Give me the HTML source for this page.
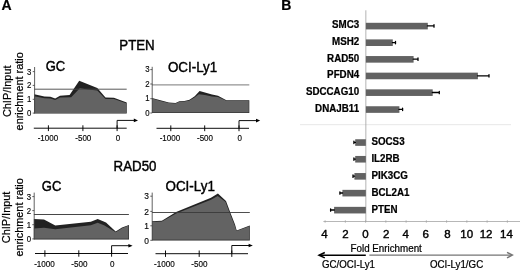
<!DOCTYPE html>
<html><head><meta charset="utf-8"><title>Figure</title>
<style>
html,body{margin:0;padding:0;background:#fff;}
body{width:520px;height:271px;overflow:hidden;}
svg{display:block;will-change:transform;}
text{font-family:"Liberation Sans",sans-serif;fill:#000;stroke:#000;stroke-width:0.22px;}
text.n{stroke-width:0.15px;fill:#0a0a0a;}
text.h{stroke-width:0.4px;}
</style></head><body>
<svg width="520" height="271" viewBox="0 0 520 271">
<rect width="520" height="271" fill="#fff"/>
<text transform="translate(1.4,10.4) scale(1,1)" font-weight="bold" font-size="14">A</text>
<text transform="translate(281.3,10.2) scale(1,1)" font-weight="bold" font-size="14">B</text>
<text transform="translate(10.6,91.3) rotate(-90) scale(1.05,1)" text-anchor="middle" font-size="10.4">ChIP/Input</text>
<text transform="translate(23.2,91.3) rotate(-90) scale(1.05,1)" text-anchor="middle" font-size="10.4">enrichment ratio</text>
<text transform="translate(10.4,217.4) rotate(-90) scale(1.05,1)" text-anchor="middle" font-size="10.4">ChIP/Input</text>
<text transform="translate(23,217.4) rotate(-90) scale(1.05,1)" text-anchor="middle" font-size="10.4">enrichment ratio</text>
<text transform="translate(137,49.5) scale(1,1.09)" text-anchor="middle" class="h" font-size="13.3">PTEN</text>
<text transform="translate(135,171) scale(1,1.09)" text-anchor="middle" class="h" font-size="13.3">RAD50</text>
<text transform="translate(45.7,71.4) scale(1,1.09)" class="h" font-size="13">GC</text>
<text transform="translate(167.9,71.9) scale(1,1.09)" class="h" font-size="13.4">OCI-Ly1</text>
<text transform="translate(41.8,190.7) scale(1,1.09)" class="h" font-size="13">GC</text>
<text transform="translate(165.5,191.4) scale(1,1.09)" class="h" font-size="13.4">OCI-Ly1</text>
<!-- chart 1 -->
<polygon fill="#222" points="34.3,94.3 44.4,96.6 50.4,96.8 55.2,98.6 60,95.8 69.6,95 79.2,80.8 97.3,88 105.5,97.4 113.9,97.7 126.7,102.5 126.7,113.6 34.3,113.6"/>
<polygon fill="#636363" points="34.3,96.2 44.4,98.3 50.4,98.4 55.2,100.1 60,97.5 71.2,97.2 79.8,88.2 88,89.6 97.3,90.5 105.5,98.9 113.9,99.1 126.2,103.3 126.2,113 34.3,113"/>
<line x1="34.3" y1="89.2" x2="126.7" y2="89.2" stroke="#444" stroke-width="0.9"/>
<path d="M34.6 67V113.6 M32.7 71.6h1.9 M32.7 85.4h1.9 M32.7 99.3h1.9 M32.7 113.1h1.9" stroke="#444" stroke-width="0.85" fill="none"/>
<text transform="translate(31.3,74.6437) scale(1,1.09)" text-anchor="end" class="n" font-size="7.8">3</text>
<text transform="translate(31.3,88.4437) scale(1,1.09)" text-anchor="end" class="n" font-size="7.8">2</text>
<text transform="translate(31.3,102.344) scale(1,1.09)" text-anchor="end" class="n" font-size="7.8">1</text>
<text transform="translate(31.3,116.144) scale(1,1.09)" text-anchor="end" class="n" font-size="7.8">0</text>
<path d="M33.8 128.2H126.7 M48.4 125.3v5.8 M82.9 125.3v5.8 M117.1 125.3v5.8 M117.1 128.2V120.4H135" stroke="#000" stroke-width="0.95" fill="none"/>
<polygon points="138,120.4 133.8,118.6 133.8,122.2" fill="#000"/>
<text transform="translate(47.9,141.2) scale(1,1.09)" text-anchor="middle" class="n" font-size="8.01887">-1000</text>
<text transform="translate(83.3,141.2) scale(1,1.09)" text-anchor="middle" class="n" font-size="8.01887">-500</text>
<text transform="translate(117.9,141.2) scale(1,1.09)" text-anchor="middle" class="n" font-size="8.01887">0</text>
<!-- chart 2 -->
<polygon fill="#222" points="152,97.9 160.4,100.3 168.8,102.4 175.5,103 179.4,101.2 184.4,100.9 189.5,99.8 194.7,96.2 199.6,91 212,94.6 218,95.8 226.4,100.2 249.3,100.2 249.3,113 152,113"/>
<polygon fill="#636363" points="152,98.5 160.4,100.9 168.8,103 175.5,103.6 179.4,101.8 184.4,101.5 189.5,100.6 194.5,97.5 198.8,94.3 204.8,95 212,96.4 218,96.9 226.4,100.7 248.8,100.7 248.8,112.4 152,112.4"/>
<line x1="152" y1="84.9" x2="249.3" y2="84.9" stroke="#939393" stroke-width="1.25"/>
<path d="M152.2 66.8V113 M150.3 69.6h1.9 M150.3 84h1.9 M150.3 98.7h1.9 M150.3 113h1.9" stroke="#444" stroke-width="0.85" fill="none"/>
<text transform="translate(149.5,72.3437) scale(1,1.09)" text-anchor="end" class="n" font-size="7.8">3</text>
<text transform="translate(149.5,86.7437) scale(1,1.09)" text-anchor="end" class="n" font-size="7.8">2</text>
<text transform="translate(149.5,101.444) scale(1,1.09)" text-anchor="end" class="n" font-size="7.8">1</text>
<text transform="translate(149.5,115.744) scale(1,1.09)" text-anchor="end" class="n" font-size="7.8">0</text>
<path d="M156.5 128.3H249 M170.8 125.4v5.8 M204.7 125.4v5.8 M239 125.4v5.8 M239 128.3V120.6H257.2" stroke="#000" stroke-width="0.95" fill="none"/>
<polygon points="260.2,120.6 256,118.8 256,122.4" fill="#000"/>
<text transform="translate(169.9,140.9) scale(1,1.09)" text-anchor="middle" class="n" font-size="8.01887">-1000</text>
<text transform="translate(205,140.9) scale(1,1.09)" text-anchor="middle" class="n" font-size="8.01887">-500</text>
<text transform="translate(239.8,140.9) scale(1,1.09)" text-anchor="middle" class="n" font-size="8.01887">0</text>
<!-- chart 3 -->
<polygon fill="#222" points="33.9,218.9 44,219.4 55.3,225.4 90.8,221.8 97.7,219.1 106,222.6 115.7,231.4 122,227.6 129,224.9 129,239.4 33.9,239.4"/>
<polygon fill="#636363" points="33.9,228.6 44,227.8 55.3,229.2 90.8,225.2 97.7,222.8 104,225.2 115.8,232.3 122,228.3 128.5,225.4 128.5,238.8 33.9,238.8"/>
<line x1="33.9" y1="214.5" x2="128.9" y2="214.5" stroke="#484848" stroke-width="1"/>
<path d="M34.2 192.6V239.4 M32.3 196.6h1.9 M32.3 210.6h1.9 M32.3 224.7h1.9 M32.3 238.9h1.9" stroke="#444" stroke-width="0.85" fill="none"/>
<text transform="translate(31.1,199.844) scale(1,1.09)" text-anchor="end" class="n" font-size="7.8">3</text>
<text transform="translate(31.1,213.844) scale(1,1.09)" text-anchor="end" class="n" font-size="7.8">2</text>
<text transform="translate(31.1,227.944) scale(1,1.09)" text-anchor="end" class="n" font-size="7.8">1</text>
<text transform="translate(31.1,242.144) scale(1,1.09)" text-anchor="end" class="n" font-size="7.8">0</text>
<path d="M35 253.5H128 M44.9 250.3v6.4 M78.8 250.3v6.4 M111.6 250.3v6.4 M111.6 253.5V245.7H129.6" stroke="#000" stroke-width="0.95" fill="none"/>
<polygon points="132.6,245.7 128.4,243.9 128.4,247.5" fill="#000"/>
<text transform="translate(44.5,266.8) scale(1,1.09)" text-anchor="middle" class="n" font-size="8.11321">-1000</text>
<text transform="translate(79.3,266.8) scale(1,1.09)" text-anchor="middle" class="n" font-size="8.11321">-500</text>
<text transform="translate(112.3,266.8) scale(1,1.09)" text-anchor="middle" class="n" font-size="8.11321">0</text>
<!-- chart 4 -->
<polygon fill="#222" points="152,221.3 161.9,220.7 176.1,212 211,197.7 217.9,193.6 226,201 230.3,212.5 235,224.5 236.7,230.5 249.8,225.6 249.8,240.4 152,240.4"/>
<polygon fill="#636363" points="152,222 161.9,221.5 176.1,213.6 211,199.8 217.7,196 225.4,201.8 229.7,212.9 234.5,224.9 236.5,231.1 249.3,226.2 249.3,239.8 152,239.8"/>
<line x1="152" y1="212.5" x2="249.8" y2="212.5" stroke="#3a3a3a" stroke-width="0.9"/>
<path d="M152.2 192.6V240.4 M150.3 196.2h1.9 M150.3 211.4h1.9 M150.3 225.8h1.9 M150.3 240.3h1.9" stroke="#444" stroke-width="0.85" fill="none"/>
<text transform="translate(148.9,199.478) scale(1,1.09)" text-anchor="end" class="n" font-size="8.4">3</text>
<text transform="translate(148.9,214.678) scale(1,1.09)" text-anchor="end" class="n" font-size="8.4">2</text>
<text transform="translate(148.9,229.078) scale(1,1.09)" text-anchor="end" class="n" font-size="8.4">1</text>
<text transform="translate(148.9,243.578) scale(1,1.09)" text-anchor="end" class="n" font-size="8.4">0</text>
<path d="M155.5 253.7H248 M165.5 250.5v6.4 M199.2 250.5v6.4 M231.8 250.5v6.4 M231.8 253.7V245.5H249.8" stroke="#000" stroke-width="0.95" fill="none"/>
<polygon points="252.8,245.5 248.6,243.7 248.6,247.3" fill="#000"/>
<text transform="translate(164.4,267) scale(1,1.09)" text-anchor="middle" class="n" font-size="8.11321">-1000</text>
<text transform="translate(199.3,267) scale(1,1.09)" text-anchor="middle" class="n" font-size="8.11321">-500</text>
<!-- panel B -->
<line x1="300" y1="124.7" x2="511" y2="124.7" stroke="#e0e0e0" stroke-width="0.8"/>
<line x1="365.85" y1="10.3" x2="365.85" y2="222" stroke="#a0a0a0" stroke-width="0.8"/>
<path d="M323.4 221.5H520 M325.1 220.3v2.4 M345.35 220.3v2.4 M365.6 220.3v2.4 M385.85 220.3v2.4 M406.1 220.3v2.4 M426.35 220.3v2.4 M446.6 220.3v2.4 M466.85 220.3v2.4 M487.1 220.3v2.4 M507.35 220.3v2.4" stroke="#a4a4a4" stroke-width="0.8" fill="none"/>
<g fill="#626262">
<rect x="365.85" y="22.8" width="61.95" height="6.6"/>
<rect x="365.85" y="39.4" width="26.95" height="6.6"/>
<rect x="365.85" y="56.05" width="47.75" height="6.6"/>
<rect x="365.85" y="72.65" width="112.05" height="6.6"/>
<rect x="365.85" y="89.35" width="66.85" height="6.6"/>
<rect x="365.85" y="106.25" width="33.55" height="6.6"/>
<rect x="355.2" y="139.25" width="10.65" height="6.6"/>
<rect x="355.2" y="155.95" width="10.65" height="6.6"/>
<rect x="354.4" y="173.05" width="11.45" height="6.6"/>
<rect x="342.4" y="189.85" width="23.45" height="6.6"/>
<rect x="334.1" y="206.85" width="31.75" height="6.6"/>
</g>
<path stroke="#000" stroke-width="1.3" stroke-linecap="round" fill="none" d="M427.4 25.95H434 M434 24.75v2.4 M392.4 42.55H395.5 M395.5 41.35v2.4 M413.2 59.2H418 M418 58v2.4 M477.5 75.8H489 M489 74.6v2.4 M432.3 92.5H439.3 M439.3 91.3v2.4 M399 109.4H402.6 M402.6 108.2v2.4 M355.4 142.4H353.9 M353.9 141.2v2.4 M355.4 159.1H353.9 M353.9 157.9v2.4 M354.6 176.2H353 M353 175v2.4 M342.6 193H339.9 M339.9 191.8v2.4 M334.3 210H330.6 M330.6 208.8v2.4 "/>
<text transform="translate(359.2,28.35) scale(1,1.08)" text-anchor="end" font-weight="bold" font-size="9.8">SMC3</text>
<text transform="translate(359.2,44.95) scale(1,1.08)" text-anchor="end" font-weight="bold" font-size="9.8">MSH2</text>
<text transform="translate(359.2,61.6) scale(1,1.08)" text-anchor="end" font-weight="bold" font-size="9.8">RAD50</text>
<text transform="translate(359.2,78.2) scale(1,1.08)" text-anchor="end" font-weight="bold" font-size="9.8">PFDN4</text>
<text transform="translate(359.2,94.9) scale(1,1.08)" text-anchor="end" font-weight="bold" font-size="9.8">SDCCAG10</text>
<text transform="translate(359.2,111.8) scale(1,1.08)" text-anchor="end" font-weight="bold" font-size="9.8">DNAJB11</text>
<text transform="translate(371.4,145.2) scale(1,1.08)" font-weight="bold" font-size="9.8">SOCS3</text>
<text transform="translate(371.4,161.9) scale(1,1.08)" font-weight="bold" font-size="9.8">IL2RB</text>
<text transform="translate(371.4,179) scale(1,1.08)" font-weight="bold" font-size="9.8">PIK3CG</text>
<text transform="translate(371.4,195.8) scale(1,1.08)" font-weight="bold" font-size="9.8">BCL2A1</text>
<text transform="translate(371.4,212.8) scale(1,1.08)" font-weight="bold" font-size="9.8">PTEN</text>
<text transform="translate(324.4,237.9) scale(1,1)" text-anchor="middle" class="h" font-size="11.5">4</text>
<text transform="translate(345.5,237.9) scale(1,1)" text-anchor="middle" class="h" font-size="11.5">2</text>
<text transform="translate(365.5,237.9) scale(1,1)" text-anchor="middle" class="h" font-size="11.5">0</text>
<text transform="translate(386.2,237.9) scale(1,1)" text-anchor="middle" class="h" font-size="11.5">2</text>
<text transform="translate(405.7,237.9) scale(1,1)" text-anchor="middle" class="h" font-size="11.5">4</text>
<text transform="translate(425.6,237.9) scale(1,1)" text-anchor="middle" class="h" font-size="11.5">6</text>
<text transform="translate(447.4,237.9) scale(1,1)" text-anchor="middle" class="h" font-size="11.5">8</text>
<text transform="translate(466.7,237.9) scale(1,1)" text-anchor="middle" class="h" font-size="11.5">10</text>
<text transform="translate(486.1,237.9) scale(1,1)" text-anchor="middle" class="h" font-size="11.5">12</text>
<text transform="translate(506.4,237.9) scale(1,1)" text-anchor="middle" class="h" font-size="11.5">14</text>
<text transform="translate(350.6,251.6) scale(1,1.02)" font-size="9.8">Fold Enrichment</text>
<line x1="319.6" y1="255.2" x2="365.8" y2="255.2" stroke="#000" stroke-width="1.5"/>
<path d="M324.8 252.5L319 255.2L324.8 257.9" stroke="#000" stroke-width="1.5" fill="none"/>
<line x1="369.4" y1="255.1" x2="511.6" y2="255.1" stroke="#757575" stroke-width="1.4"/>
<path d="M507 252.3L512.4 255.1L507 257.9" stroke="#757575" stroke-width="1.4" fill="none"/>
<text transform="translate(322,267.9) scale(1,1.08)" font-size="9.7">GC/OCI-Ly1</text>
<text transform="translate(430,267.9) scale(1,1.08)" font-size="9.75">OCI-Ly1/GC</text>
</svg>
</body></html>
